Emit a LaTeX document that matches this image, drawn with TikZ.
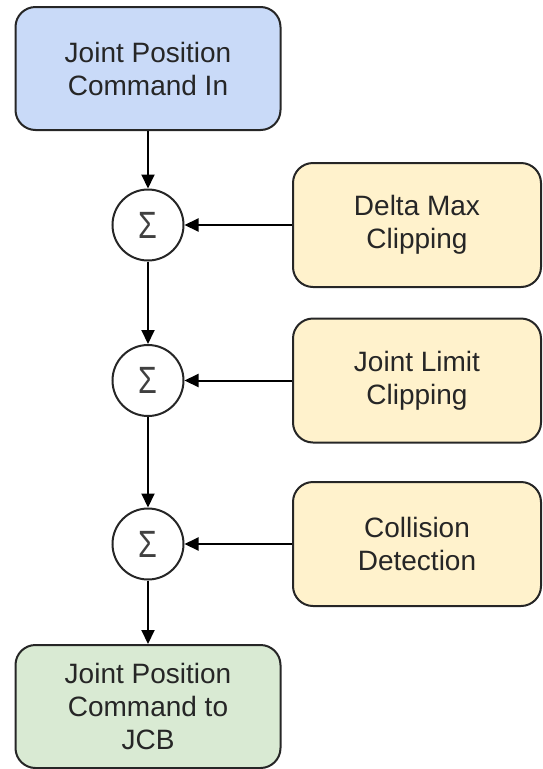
\documentclass[tikz,border=0pt]{standalone}
\usepackage{fontspec}
\setmainfont{Liberation Sans}
\usetikzlibrary{arrows.meta}
\definecolor{cmdblue}{HTML}{C9DAF8}
\definecolor{clipyellow}{HTML}{FFF2CC}
\definecolor{outgreen}{HTML}{D9EAD3}
\newcommand{\sumsign}{\scalebox{0.8}[1]{Σ}}
\begin{document}
\begin{tikzpicture}[x=1pt, y=-1pt, font=\fontsize{28}{33}\selectfont, line width=2pt,
          >={Triangle[length=14pt,width=13pt]},
          box/.style={draw=black!85, rounded corners=20pt, align=center, text=black!85, inner sep=0pt},
          cmd/.style={box, minimum width=265pt, minimum height=123pt},
          clip/.style={box, fill=clipyellow, minimum width=248pt, minimum height=124pt},
          sum/.style={draw=black!85, circle, minimum size=71pt, inner sep=0pt, text=black!75, font=\fontsize{38}{40}\selectfont}]
        \useasboundingbox (0,0) rectangle (542,769);
        \node[cmd, fill=cmdblue] (cin) at (148,68.5) {Joint Position\\Command In};
        \node[sum] (s1) at (148,225) {\sumsign};
        \node[sum] (s2) at (148,380.5) {\sumsign};
        \node[sum] (s3) at (148,544) {\sumsign};
        \node[clip] (dmc) at (417,225) {Delta Max\\Clipping};
        \node[clip] (jlc) at (417,380.5) {Joint Limit\\Clipping};
        \node[clip] (cd) at (417,544) {Collision\\Detection};
        \node[cmd, fill=outgreen] (cout) at (148,706.5) {Joint Position\\Command to\\JCB};
        \draw[->] (cin) -- (s1);
        \draw[->] (s1) -- (s2);
        \draw[->] (s2) -- (s3);
        \draw[->] (s3) -- (cout);
        \draw[->] (dmc) -- (s1);
        \draw[->] (jlc) -- (s2);
        \draw[->] (cd) -- (s3);
      \end{tikzpicture}
\end{document}
